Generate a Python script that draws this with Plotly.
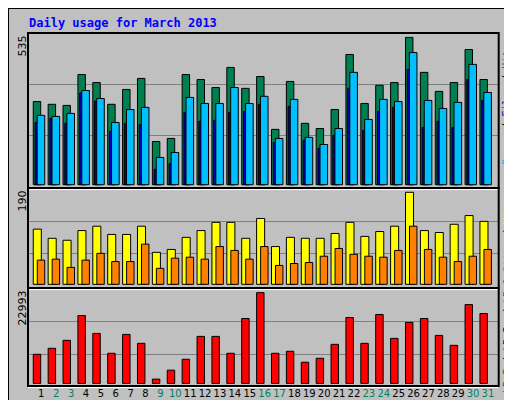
import plotly.graph_objects as go

days = list(range(1, 32))
weekend = [2, 3, 9, 10, 16, 17, 23, 24, 30, 31]

hits = [302, 292, 288, 400, 371, 292, 346, 386, 157, 168, 400, 382, 353, 426, 350, 393,
        201, 375, 223, 204, 273, 473, 295, 361, 371, 535, 408, 339, 371, 491, 382]
files = [252, 248, 259, 342, 313, 226, 273, 281, 99, 117, 317, 295, 295, 353, 295, 321,
         168, 310, 172, 146, 204, 408, 237, 310, 302, 480, 306, 277, 299, 437, 335]
pages = [226, 241, 223, 333, 304, 194, 223, 219, 56, 77, 263, 230, 234, 263, 266, 292,
         154, 284, 161, 132, 179, 350, 197, 266, 281, 419, 208, 230, 208, 382, 306]
visits = [114, 95, 91, 111, 120, 103, 103, 120, 66, 72, 97, 111, 128, 128, 95, 136,
          78, 97, 95, 95, 105, 128, 99, 109, 120, 190, 111, 107, 124, 142, 130]
sites = [50, 52, 35, 50, 64, 47, 47, 83, 33, 54, 56, 52, 78, 70, 52, 78,
         39, 43, 45, 58, 74, 62, 58, 56, 70, 120, 72, 56, 47, 58, 72]
kbytes = [7383, 8893, 10907, 17200, 12669, 7635, 12417, 10152, 1091, 3356, 6125, 11914,
          11914, 7635, 16444, 22993, 7635, 8138, 5370, 6376, 9900, 16696, 10152, 17451,
          11410, 15438, 16444, 12166, 9649, 19968, 17703]

W, H = 512, 400
x0, x1 = 20 / W, 490.7 / W
MONO = "DejaVu Sans Mono"
LINE = dict(color="black", width=1)

fig = go.Figure()


def bar(y, color, off, w, axis):
    fig.add_trace(go.Bar(x=days, y=y, offset=off, width=w, marker_color=color,
                         marker_line=LINE, xaxis="x" + axis, yaxis="y" + axis,
                         hoverinfo="y"))


bar(hits, "#008050", -0.54, 0.5, "")
bar(pages, "#0000C8", -0.42, 0.45, "")
bar(files, "#00BFFF", -0.28, 0.51, "")
bar(visits, "#FFFF00", -0.54, 0.54, "2")
bar(sites, "#FF8000", -0.27, 0.5, "2")
bar(kbytes, "#FF0000", -0.54, 0.5, "3")

xr = [0.107, 31.72]
ticktext = [f'<span style="color:{"#008060" if d in weekend else "black"}">{d}</span>'
            for d in days]
common_x = dict(range=xr, showgrid=False, zeroline=False, fixedrange=True)
common_y = dict(showticklabels=False, ticks="", gridcolor="#808080", gridwidth=1,
                zeroline=False, fixedrange=True)

fig.update_layout(
    width=W, height=H, margin=dict(l=0, r=0, t=0, b=0),
    paper_bgcolor="#C0C0C0", plot_bgcolor="#C0C0C0",
    barmode="overlay", showlegend=False,
    font=dict(family=MONO, size=11, color="black"),
    xaxis=dict(domain=[x0, x1], anchor="y", showticklabels=False, **common_x),
    xaxis2=dict(domain=[x0, x1], anchor="y2", showticklabels=False, **common_x),
    xaxis3=dict(domain=[x0, x1], anchor="y3", tickvals=days, ticktext=ticktext,
                tickangle=0, tickfont=dict(family="DejaVu Sans", size=10), ticks="",
                ticklen=0, **common_x),
    yaxis=dict(domain=[0.55, 0.9375], range=[-12, 551], tickvals=[180, 364], **common_y),
    yaxis2=dict(domain=[0.3, 0.55], range=[-7.6, 198.9], tickvals=[63, 130], **common_y),
    yaxis3=dict(domain=[0.055, 0.3], range=[-655, 24173], tickvals=[7385, 15690], **common_y),
)

# panel frames and outer border
for y0, y1 in [(0.55, 0.9375), (0.3, 0.55), (0.055, 0.3)]:
    fig.add_shape(type="rect", xref="paper", yref="paper", x0=x0, x1=x1, y0=y0, y1=y1,
                  line=dict(color="black", width=2))
    fig.add_shape(type="line", xref="paper", yref="paper", x0=x0, x1=x1,
                  y0=y0 - 0.004, y1=y0 - 0.004, line=dict(color="white", width=1))
fig.add_shape(type="line", xref="paper", yref="paper", x0=0.992, x1=0.992, y0=0.01, y1=0.99,
              line=dict(color="#808080", width=5))
fig.add_shape(type="line", xref="paper", yref="paper", x0=0.01, x1=0.99, y0=0.011, y1=0.011,
              line=dict(color="#808080", width=5))
fig.add_shape(type="rect", xref="paper", yref="paper", x0=0, x1=1, y0=0, y1=1,
              line=dict(color="black", width=2))

fig.add_annotation(text="<b>Daily usage for March 2013</b>", x=19 / W, y=1 - 15 / H,
                   xref="paper", yref="paper", xanchor="left", yanchor="middle",
                   showarrow=False, font=dict(family=MONO, size=12, color="#0000FF"))

for label, ytop in [("535", 26), ("190", 181), ("22993", 281)]:
    fig.add_annotation(text=label, x=14 / W, y=1 - ytop / H, xref="paper", yref="paper",
                       textangle=-90, xanchor="center", yanchor="top", showarrow=False,
                       font=dict(family="DejaVu Sans", size=11))


def sp(t, c):
    return f'<span style="color:{c}">{t}</span>'


right_labels = [
    (sp("Pages", "#00BFFF") + " / " + sp("Files", "#0000C8") + " / " + sp("Hits", "#008050"), 97),
    (sp("Sites", "#FF8000") + " / " + sp("Visits", "#FFFF00"), 222),
    (sp("kB F", "#FF0000") + " / " + sp("kB In", "#0000C8") + " / " + sp("kB Out", "#008050"), 322),
]
for text, ymid in right_labels:
    fig.add_annotation(text=text, x=499 / W, y=1 - ymid / H, xref="paper", yref="paper",
                       textangle=-90, xanchor="center", yanchor="middle", showarrow=False,
                       font=dict(family=MONO, size=10))

fig.write_html("out.html")
